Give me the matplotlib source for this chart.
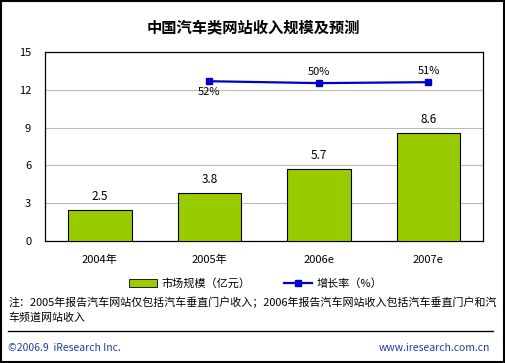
import matplotlib.pyplot as plt
import numpy as np
from matplotlib.lines import Line2D
from matplotlib.patches import Patch, Rectangle

plt.rcParams['font.family'] = ['Noto Sans CJK SC', 'DejaVu Sans']

# 数据
years = ['2004年', '2005年', '2006e', '2007e']
market = [2.5, 3.8, 5.7, 8.6]          # 市场规模（亿元）
rate_years = ['2005年', '2006e', '2007e']
rate = [52, 50, 51]                     # 增长率（%）
rate_labels = ['52%', '50%', '51%']
yticks = [0, 3, 6, 9, 12, 15]

green = '#99CC00'
blue = '#0000CC'

fig = plt.figure(figsize=(5.06, 3.63), dpi=100)
fig.patches.append(Rectangle((0.002, 0.003), 0.994, 0.993, transform=fig.transFigure,
                             fill=False, edgecolor='black', linewidth=1.5))

ax = fig.add_axes([0.089, 0.336, 0.866, 0.521])
x = np.arange(len(years))
ax.bar(x, market, width=0.58, color=green, edgecolor='black', linewidth=0.8, zorder=3)
for xi, v in zip(x, market):
    ax.text(xi, v + 0.55, f'{v}', ha='center', va='bottom', fontsize=8.5)

ax.set_xlim(-0.5, len(years) - 0.5)
ax.set_ylim(0, 15)
ax.set_yticks(yticks)
ax.set_yticklabels([str(t) for t in yticks], fontsize=8)
ax.set_xticks(x)
ax.set_xticklabels(years, fontsize=8)
ax.tick_params(length=0)
ax.tick_params(axis='y', pad=10)
ax.tick_params(axis='x', pad=10)
ax.grid(axis='y', color='#BBBBBB', linewidth=0.8, zorder=0)
for s in ax.spines.values():
    s.set_color('black')
    s.set_linewidth(0.9)

# 增长率，次坐标轴（隐藏）
ax2 = ax.twinx()
rx = [years.index(y) for y in rate_years]
ax2.plot(rx, rate, color=blue, linewidth=1.6, marker='s', markersize=5, zorder=4)
ax2.set_ylim(-117, 83)
ax2.set_yticks([])
for s in ax2.spines.values():
    s.set_visible(False)
for i, (xi, v, lab) in enumerate(zip(rx, rate, rate_labels)):
    if i == 0:
        ax2.text(xi, v - 6, lab, ha='center', va='top', fontsize=8)
    else:
        ax2.text(xi, v + 6, lab, ha='center', va='bottom', fontsize=8)

fig.text(0.5, 0.925, '中国汽车类网站收入规模及预测', ha='center', va='center',
         fontsize=11, fontweight='bold')

handles = [Patch(facecolor=green, edgecolor='black', linewidth=0.6),
           Line2D([0], [0], color=blue, linewidth=1.6, marker='s', markersize=4)]
fig.legend(handles, ['市场规模（亿元）', '增长率（%）'], loc='center',
           bbox_to_anchor=(0.505, 0.22), ncol=2, frameon=False, fontsize=8,
           handlelength=2.5, handleheight=0.7, columnspacing=3, handletextpad=0.4)

fig.text(0.016, 0.168, '注：2005年报告汽车网站仅包括汽车垂直门户收入；2006年报告汽车网站收入包括汽车垂直门户和汽',
         ha='left', va='center', fontsize=7.9)
fig.text(0.016, 0.124, '车频道网站收入', ha='left', va='center', fontsize=7.9)
fig.add_artist(Line2D([0.016, 0.974], [0.088, 0.088], transform=fig.transFigure,
                      color='black', linewidth=1))
fig.text(0.016, 0.041, '©2006.9  iResearch Inc.', ha='left', va='center',
         fontsize=7.5, color='#1F3FA0')
fig.text(0.968, 0.041, 'www.iresearch.com.cn', ha='right', va='center',
         fontsize=7.5, color='#1F3FA0')

fig.savefig('out.png', dpi=100)
